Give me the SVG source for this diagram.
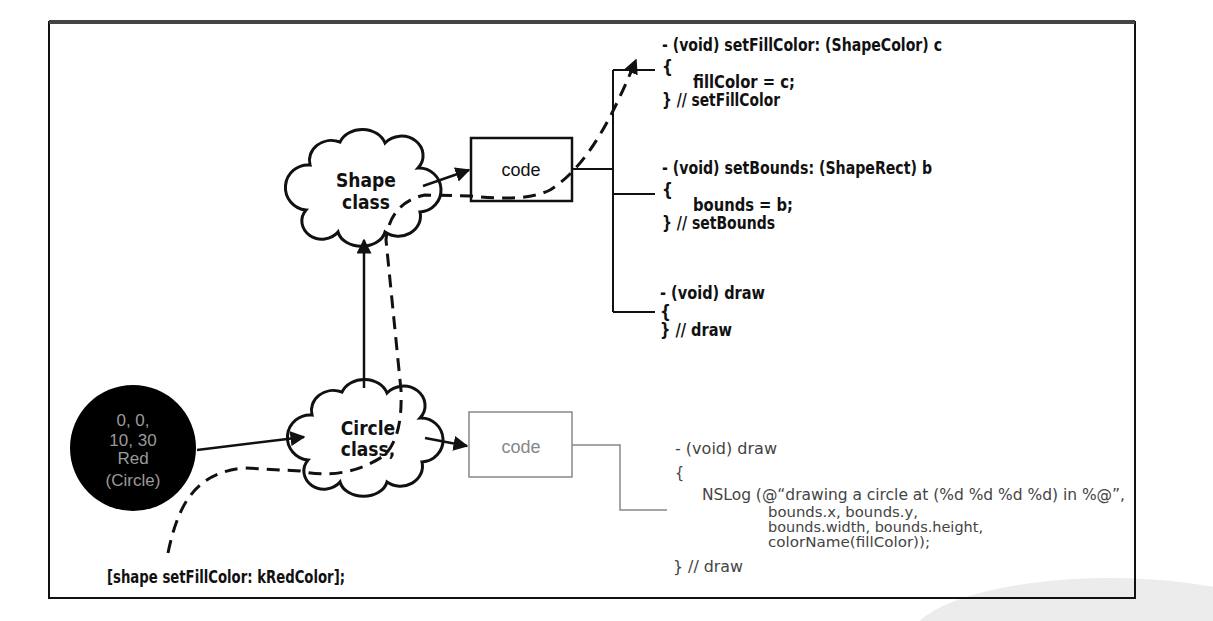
<svg xmlns="http://www.w3.org/2000/svg" width="1213" height="621" viewBox="0 0 1213 621">
<style>
.t{font-family:"Liberation Sans Narrow","DejaVu Sans Condensed","Liberation Sans",sans-serif;font-size:17px;fill:#111;font-weight:bold}
.g{font-family:"Liberation Sans Narrow","DejaVu Sans Condensed","Liberation Sans",sans-serif;font-size:16px;fill:#444}
.gs{font-family:"Liberation Sans Narrow","DejaVu Sans Condensed","Liberation Sans",sans-serif;font-size:14px;fill:#444}
.c{font-family:"Liberation Sans Narrow","DejaVu Sans Condensed","Liberation Sans",sans-serif;font-size:19px;font-weight:bold;fill:#111;text-anchor:middle}
.ln{stroke:#111;stroke-width:2;fill:none}
.ar{stroke:#111;stroke-width:2.5;fill:none;marker-end:url(#ah)}
.gl{stroke:#888;stroke-width:1.5;fill:none}
</style>
<defs>
<marker id="ah" viewBox="0 0 10 10" refX="9" refY="5" markerWidth="6" markerHeight="6" markerUnits="strokeWidth" orient="auto">
<path d="M0,0 L10,5 L0,10 Z" fill="#111"/>
</marker>
<marker id="dh" viewBox="0 0 10 10" refX="9" refY="5" markerWidth="5" markerHeight="5" markerUnits="strokeWidth" orient="auto">
<path d="M0,0 L10,5 L0,10 Z" fill="#111"/>
</marker>
<path id="cloud" d="M 310,165 A 22,20 0 0 1 340,142 A 24,20 0 0 1 385,143 A 20,18 0 0 1 418,168 A 16,16 0 0 1 420,212 A 22,20 0 0 1 385,232 A 24,18 0 0 1 338,232 A 20,18 0 0 1 306,210 A 14,14 0 0 1 310,165 Z" fill="#fff" stroke="#111" stroke-width="3"/>
</defs>
<rect width="1213" height="621" fill="#fff"/>
<ellipse cx="1110" cy="640" rx="200" ry="62" fill="#ececec"/>
<rect x="49" y="22" width="1086" height="576" fill="none" stroke="#111" stroke-width="2"/>
<line x1="49" y1="22" x2="1135" y2="22" stroke="#444" stroke-width="4"/>

<g id="shape-class">
<use href="#cloud"/>
<text class="c" x="366" y="187">Shape</text>
<text class="c" x="366" y="209">class</text>
</g>
<g id="circle-class">
<use href="#cloud" transform="translate(2,250)"/>
<text class="c" x="368" y="435">Circle</text>
<text class="c" x="368" y="456">class,</text>
</g>
<g id="shape-code">
<rect x="471" y="138" width="101" height="63" fill="#fff" stroke="#111" stroke-width="2.5"/>
<text x="521" y="176" font-family="Liberation Sans Narrow, Liberation Sans, sans-serif" font-size="18" text-anchor="middle" fill="#111">code</text>
</g>
<g id="circle-code">
<rect x="469" y="412" width="103" height="65" fill="#fff" stroke="#888" stroke-width="1.5"/>
<text x="521" y="453" font-family="Liberation Sans Narrow, Liberation Sans, sans-serif" font-size="18" text-anchor="middle" fill="#888">code</text>
</g>
<g id="instance">
<circle cx="133" cy="448" r="63" fill="#000"/>
<g font-family="Liberation Sans Narrow, Liberation Sans, sans-serif" font-size="17" fill="#9a9a9a" text-anchor="middle">
<text x="133" y="426">0,  0,</text>
<text x="133" y="446">10,  30</text>
<text x="133" y="464">Red</text>
<text x="133" y="486">(Circle)</text>
</g>
</g>

<g id="shape-methods">
<text class="t" x="662" y="51" textLength="280" lengthAdjust="spacingAndGlyphs">- (void) setFillColor: (ShapeColor) c</text>
<text class="t" x="662" y="73">{</text>
<text class="t" x="693" y="88" textLength="102" lengthAdjust="spacingAndGlyphs">fillColor = c;</text>
<text class="t" x="662" y="106" textLength="118" lengthAdjust="spacingAndGlyphs">} // setFillColor</text>
<text class="t" x="662" y="174" textLength="270" lengthAdjust="spacingAndGlyphs">- (void) setBounds: (ShapeRect) b</text>
<text class="t" x="662" y="196">{</text>
<text class="t" x="693" y="211" textLength="100" lengthAdjust="spacingAndGlyphs">bounds = b;</text>
<text class="t" x="662" y="229" textLength="113" lengthAdjust="spacingAndGlyphs">} // setBounds</text>
<text class="t" x="660" y="299" textLength="105" lengthAdjust="spacingAndGlyphs">- (void) draw</text>
<text class="t" x="660" y="318">{</text>
<text class="t" x="660" y="336" textLength="72" lengthAdjust="spacingAndGlyphs">} // draw</text>
</g>
<g id="circle-methods">
<text class="g" x="675" y="454" textLength="102" lengthAdjust="spacingAndGlyphs">- (void) draw</text>
<text class="g" x="675" y="478">{</text>
<text class="g" x="702" y="500" textLength="423" lengthAdjust="spacingAndGlyphs">NSLog (@“drawing a circle at (%d %d %d %d) in %@”,</text>
<text class="gs" x="768" y="517" textLength="150" lengthAdjust="spacingAndGlyphs">bounds.x, bounds.y,</text>
<text class="gs" x="768" y="532" textLength="215" lengthAdjust="spacingAndGlyphs">bounds.width, bounds.height,</text>
<text class="gs" x="768" y="547" textLength="162" lengthAdjust="spacingAndGlyphs">colorName(fillColor));</text>
<text class="g" x="673" y="572" textLength="70" lengthAdjust="spacingAndGlyphs">} // draw</text>
</g>
<g id="message">
<text class="t" x="107" y="583" textLength="238" lengthAdjust="spacingAndGlyphs">[shape setFillColor: kRedColor];</text>
</g>

<g id="connectors">
<line class="ar" x1="197" y1="450" x2="304" y2="437"/>
<line class="ar" x1="425" y1="438" x2="467" y2="446"/>
<line class="ar" x1="423" y1="186" x2="469" y2="170"/>
<line class="ar" x1="364" y1="388" x2="364" y2="240"/>
<path class="ln" d="M572,169 H613 M613,70 V312 M613,70 H655 M613,194 H655 M613,312 H655"/>
<path class="gl" d="M572,445 H620 V510 H667"/>
<path d="M 168,553 C 178,505 195,472 245,468 L 300,471 C 330,478 360,472 385,455 C 398,440 402,420 401,390 L 386,240 C 388,218 400,200 425,195 L 470,196 C 500,199 530,200 550,190 C 590,165 615,110 636,60" fill="none" stroke="#111" stroke-width="3" stroke-dasharray="13 8" marker-end="url(#dh)"/>
</g>
</svg>
